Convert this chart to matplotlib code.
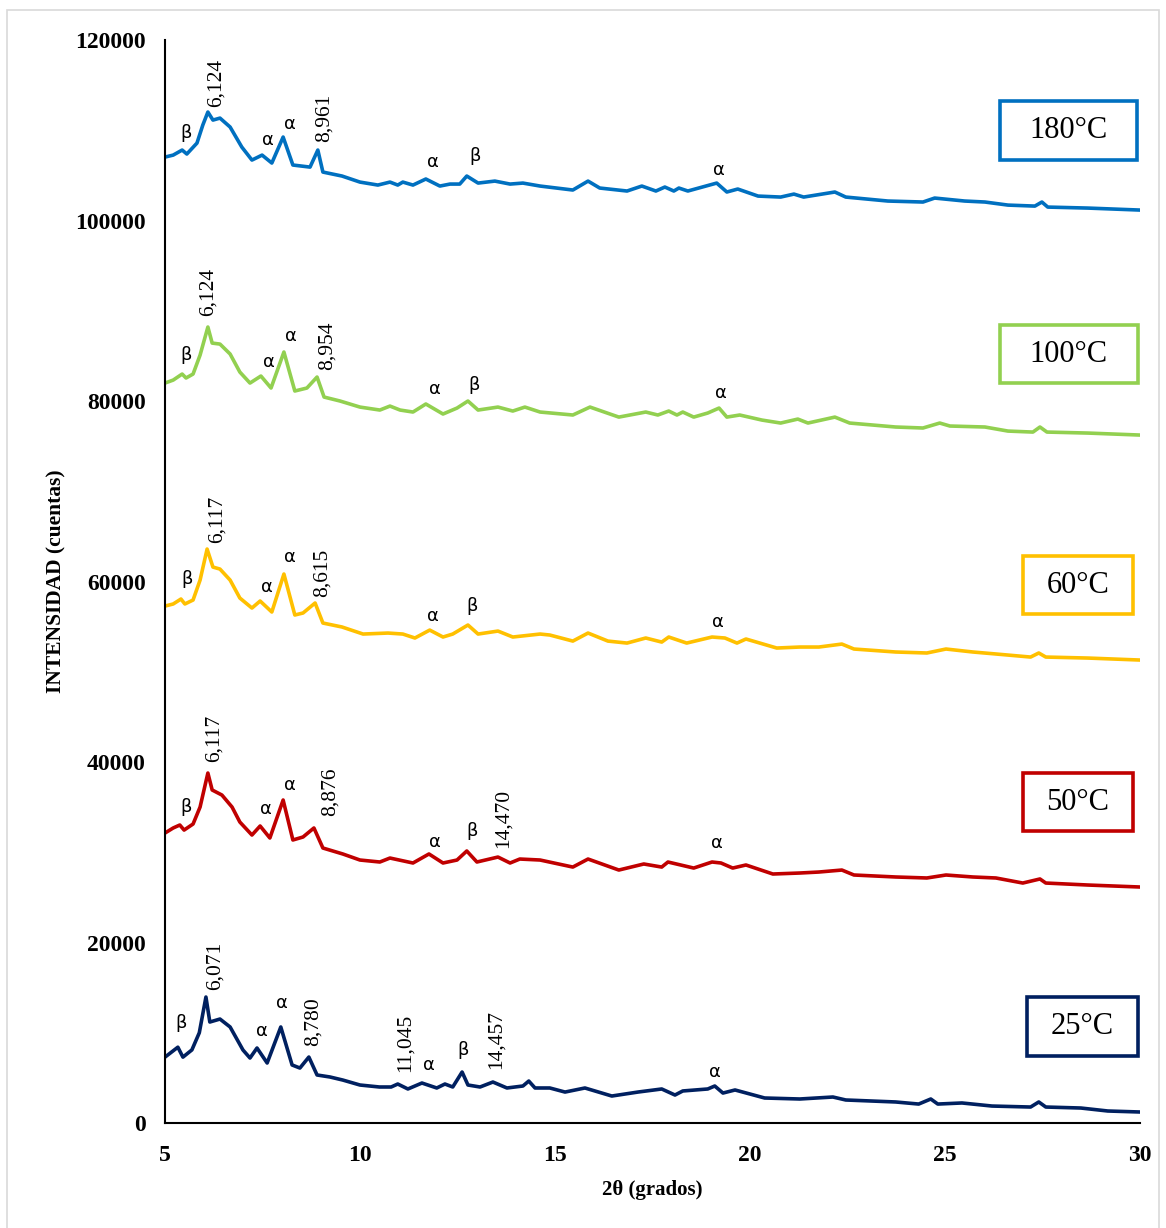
import matplotlib
matplotlib.use("Agg")
import matplotlib.pyplot as plt
from matplotlib.patches import Rectangle

# --- data (2theta in degrees, intensity in counts) ---
x25 = [5.0, 5.33, 5.46, 5.69, 5.88, 6.05, 6.15, 6.41, 6.67, 7.0, 7.18, 7.36, 7.62, 7.97, 8.26, 8.46,
       8.69, 8.9, 9.23, 9.56, 10.0, 10.5, 10.8, 10.97, 11.23, 11.59, 11.97, 12.18, 12.38, 12.62, 12.77,
       13.08, 13.41, 13.77, 14.18, 14.33, 14.49, 14.87, 15.26, 15.77, 16.46, 17.13, 17.74, 18.08, 18.28,
       18.92, 19.1, 19.31, 19.62, 20.38, 21.28, 22.13, 22.46, 23.74, 24.33, 24.64, 24.82, 25.44, 26.21,
       27.2, 27.41, 27.59, 28.49, 29.18, 30.0]
y25 = [7300, 8400, 7300, 8100, 10000, 13960, 11190, 11520, 10640, 8090, 7200, 8310, 6650, 10640, 6430, 6090,
       7310, 5320, 5100, 4760, 4210, 3990, 3990, 4320, 3770, 4430, 3880, 4320, 3990, 5650, 4210,
       3990, 4540, 3880, 4100, 4650, 3880, 3880, 3430, 3880, 2990, 3430, 3770, 3100, 3550,
       3770, 4100, 3320, 3660, 2770, 2660, 2880, 2550, 2330, 2100, 2660, 2100, 2220, 1880,
       1770, 2330, 1770, 1660, 1330, 1220]

x50 = [5.0, 5.21, 5.38, 5.49, 5.72, 5.9, 6.1, 6.21, 6.46, 6.72, 6.92, 7.23, 7.44, 7.69, 8.03, 8.28, 8.54,
       8.82, 9.05, 9.56, 10.0, 10.51, 10.77, 11.36, 11.77, 12.13, 12.49, 12.74, 13.0, 13.54, 13.85, 14.1,
       14.62, 15.46, 15.85, 16.64, 17.28, 17.74, 17.9, 18.56, 19.03, 19.26, 19.56, 19.9, 20.59, 21.28,
       21.77, 22.36, 22.67, 23.74, 24.54, 25.03, 25.72, 26.31, 27.0, 27.44, 27.59, 28.67, 30.0]
y50 = [32130, 32690, 33020, 32460, 33130, 35010, 38780, 36900, 36340, 35010, 33350, 31910, 32910, 31580, 35790, 31360, 31690,
       32690, 30470, 29810, 29140, 28920, 29360, 28810, 29810, 28810, 29140, 30140, 28920, 29470, 28810, 29250,
       29140, 28360, 29250, 28030, 28700, 28360, 28920, 28250, 28920, 28810, 28250, 28590, 27590, 27700,
       27810, 28030, 27480, 27260, 27150, 27480, 27260, 27150, 26590, 27040, 26590, 26370, 26150]

x60 = [5.0, 5.21, 5.41, 5.51, 5.72, 5.9, 6.08, 6.23, 6.41, 6.67, 6.92, 7.23, 7.44, 7.74, 8.05, 8.33, 8.54,
       8.85, 9.05, 9.54, 10.08, 10.72, 11.1, 11.41, 11.79, 12.13, 12.38, 12.77, 13.03, 13.54, 13.92, 14.62,
       14.87, 15.46, 15.85, 16.36, 16.85, 17.33, 17.74, 17.92, 18.38, 19.03, 19.36, 19.67, 19.9, 20.69,
       21.28, 21.77, 22.36, 22.67, 23.74, 24.54, 25.03, 25.72, 26.31, 27.2, 27.41, 27.59, 28.67, 30.0]
y60 = [57280, 57510, 58060, 57510, 57950, 60160, 63600, 61600, 61380, 60160, 58170, 57060, 57840, 56620, 60830, 56290, 56510,
       57620, 55400, 54960, 54180, 54290, 54180, 53740, 54620, 53850, 54180, 55180, 54180, 54510, 53850, 54180,
       54070, 53400, 54290, 53400, 53180, 53740, 53290, 53850, 53180, 53850, 53740, 53180, 53630, 52630,
       52740, 52740, 53070, 52520, 52190, 52080, 52520, 52190, 51970, 51630, 52080, 51630, 51520, 51300]

x100 = [5.0, 5.21, 5.44, 5.54, 5.72, 5.9, 6.1, 6.21, 6.41, 6.67, 6.92, 7.18, 7.46, 7.72, 8.05, 8.33, 8.64,
        8.9, 9.08, 9.49, 10.0, 10.51, 10.77, 11.03, 11.36, 11.69, 12.13, 12.49, 12.77, 13.03, 13.54, 13.92,
        14.23, 14.62, 15.46, 15.9, 16.64, 17.33, 17.64, 17.92, 18.13, 18.28, 18.56, 18.92, 19.21, 19.41,
        19.74, 20.31, 20.79, 21.23, 21.49, 22.18, 22.56, 23.74, 24.44, 24.87, 25.13, 26.03, 26.62, 27.26,
        27.44, 27.62, 28.67, 30.0]
y100 = [81990, 82320, 82990, 82550, 82990, 85090, 88200, 86420, 86310, 85210, 83210, 81990, 82770, 81440, 85430, 81110, 81440,
        82660, 80440, 80000, 79330, 79000, 79440, 79000, 78780, 79670, 78560, 79220, 80000, 79000, 79330, 78890,
        79330, 78780, 78450, 79330, 78220, 78780, 78450, 78890, 78450, 78780, 78220, 78670, 79220, 78220,
        78450, 77890, 77560, 78000, 77560, 78220, 77560, 77120, 77010, 77560, 77230, 77120, 76670, 76560,
        77120, 76560, 76450, 76230]

x180 = [5.0, 5.21, 5.44, 5.56, 5.82, 5.97, 6.1, 6.23, 6.41, 6.67, 6.97, 7.23, 7.49, 7.74, 8.03, 8.28, 8.72,
        8.92, 9.05, 9.54, 10.0, 10.46, 10.77, 10.97, 11.1, 11.36, 11.69, 12.05, 12.31, 12.56, 12.74, 13.03,
        13.46, 13.85, 14.18, 14.62, 15.46, 15.85, 16.15, 16.85, 17.23, 17.59, 17.82, 18.05, 18.18, 18.41,
        19.15, 19.41, 19.69, 20.21, 20.79, 21.13, 21.38, 22.18, 22.46, 23.54, 24.44, 24.74, 25.51, 26.03,
        26.62, 27.31, 27.49, 27.64, 28.67, 30.0]
y180 = [107030, 107250, 107810, 107370, 108580, 110580, 112020, 111130, 111350, 110360, 108140, 106700, 107250, 106370, 109250, 106150, 105920,
        107810, 105370, 104930, 104260, 103930, 104260, 103930, 104260, 103930, 104600, 103820, 104040, 104040, 104930, 104150,
        104370, 104040, 104150, 103820, 103380, 104370, 103600, 103270, 103820, 103270, 103710, 103270, 103600, 103270,
        104150, 103160, 103490, 102710, 102600, 102930, 102600, 103160, 102600, 102160, 102050, 102490, 102160, 102050,
        101710, 101600, 102050, 101490, 101380, 101160]

labels = ["25°C", "50°C", "60°C", "100°C", "180°C"]
colors = ["#002060", "#C00000", "#FFC000", "#92D050", "#0070C0"]

# peak marks: (text, 2theta, intensity)
marks25 = [("β", 5.41, 11080), ("6,071", 6.28, 17400), ("α", 7.49, 10190), ("α", 8.0, 13300),
           ("8,780", 8.79, 11190), ("11,045", 11.15, 8860), ("α", 11.77, 6430), ("β", 12.64, 8090),
           ("14,457", 13.49, 9200), ("α", 19.1, 5650)]
marks50 = [("β", 5.54, 35010), ("6,117", 6.26, 42660), ("α", 7.59, 34790), ("α", 8.21, 37450),
           ("8,876", 9.23, 36670), ("α", 11.92, 31130), ("β", 12.87, 32350), ("14,470", 13.67, 33790),
           ("α", 19.15, 31020)]
marks60 = [("β", 5.56, 60280), ("6,117", 6.33, 66920), ("α", 7.62, 59390), ("α", 8.21, 62710),
           ("8,615", 9.03, 60940), ("α", 11.87, 56180), ("β", 12.87, 57280), ("α", 19.18, 55510)]
marks100 = [("β", 5.54, 85100), ("6,124", 6.1, 92070), ("α", 7.67, 84320), ("α", 8.23, 87200),
            ("8,954", 9.15, 86090), ("α", 11.92, 81330), ("β", 12.92, 81770), ("α", 19.26, 80880)]
marks180 = [("β", 5.54, 109700), ("6,124", 6.31, 115300), ("α", 7.64, 108900), ("α", 8.21, 110700),
            ("8,961", 9.08, 111350), ("α", 11.87, 106480), ("β", 12.95, 107140), ("α", 19.2, 105600)]

# label boxes: left, right (2theta) and bottom, top (counts)
box_l = [27.1, 27.0, 27.0, 26.41, 26.41]
box_r = [29.95, 29.82, 29.82, 29.95, 29.92]
box_b = [7420, 32350, 56400, 81990, 106700]
box_t = [13960, 38780, 62820, 88420, 113240]

serif = "Liberation Serif"

fig = plt.figure(figsize=(11.66, 12.28), dpi=100)
fig.patches.append(Rectangle((0.006, -0.01), 0.988, 1.002, transform=fig.transFigure,
                             fill=False, edgecolor="#d9d9d9", linewidth=1.2))
ax = fig.add_axes([0.1415, 0.0855, 0.836, 0.8819])

series = [(x25, y25, marks25), (x50, y50, marks50), (x60, y60, marks60),
          (x100, y100, marks100), (x180, y180, marks180)]

for i, (xs, ys, marks) in enumerate(series):
    ax.plot(xs, ys, color=colors[i], linewidth=2.6, solid_joinstyle="round")
    for txt, mx, my in marks:
        if txt in ("α", "β"):
            ax.text(mx, my, txt, ha="center", va="center", fontsize=13, family="DejaVu Sans")
        else:
            ax.text(mx, my, txt, ha="center", va="center", fontsize=15.5, family=serif, rotation=90)
    ax.add_patch(Rectangle((box_l[i], box_b[i]), box_r[i] - box_l[i], box_t[i] - box_b[i],
                           facecolor="white", edgecolor=colors[i], linewidth=2.6, zorder=3))
    ax.text((box_l[i] + box_r[i]) / 2, (box_b[i] + box_t[i]) / 2, labels[i], ha="center", va="center",
            fontsize=22, family=serif, zorder=4)

ax.set_xlim(5, 30)
ax.set_ylim(0, 120000)
ax.set_xticks([5, 10, 15, 20, 25, 30])
ax.set_yticks(range(0, 120001, 20000))
ax.tick_params(axis="y", length=0, pad=14)
ax.tick_params(axis="x", length=0, pad=16)
for lab in ax.get_xticklabels() + ax.get_yticklabels():
    lab.set_fontfamily(serif)
    lab.set_fontweight("bold")
    lab.set_fontsize(17)

ax.spines["top"].set_visible(False)
ax.spines["right"].set_visible(False)
ax.spines["left"].set_linewidth(1.5)
ax.spines["bottom"].set_linewidth(1.5)

ax.set_xlabel("2θ (grados)", family=serif, fontweight="bold", fontsize=15, labelpad=10)
ax.set_ylabel("INTENSIDAD (cuentas)", family=serif, fontweight="bold", fontsize=15.5, labelpad=6)

fig.savefig("out.png", dpi=100)
